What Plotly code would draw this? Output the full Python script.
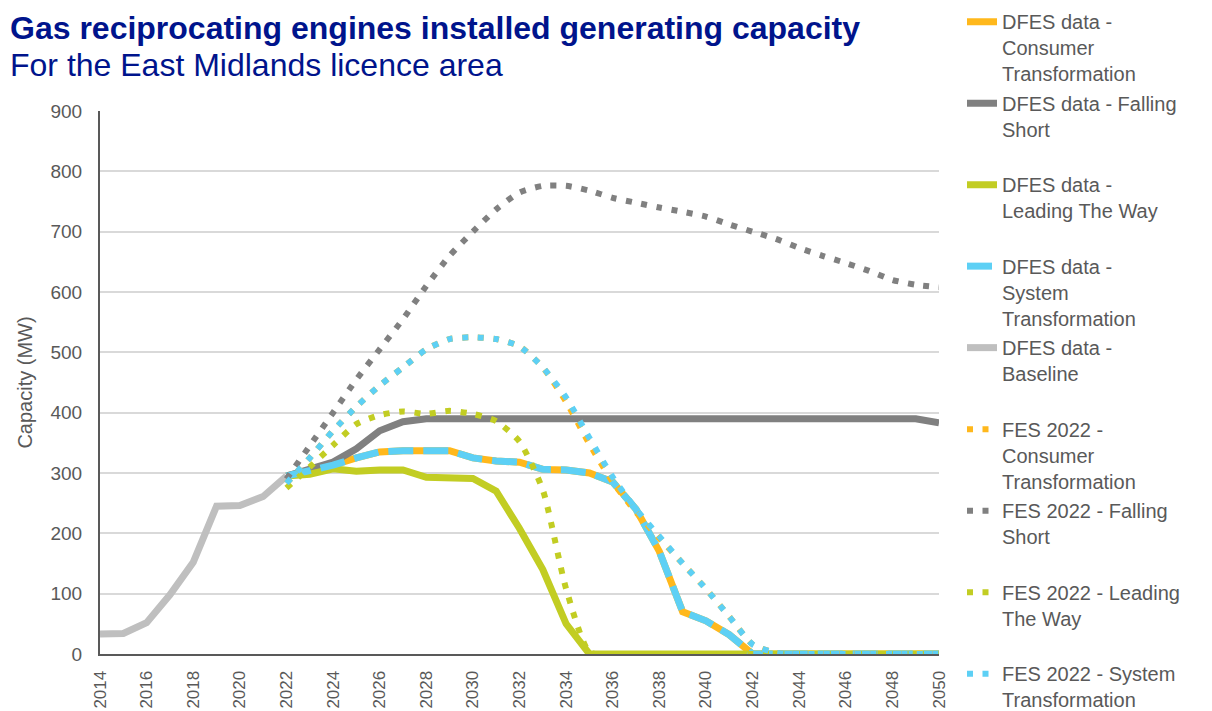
import plotly.graph_objects as go

years = list(range(2022, 2051))
baseline_years = list(range(2014, 2023))

dfes_baseline = [33, 34, 52, 98, 152, 245, 246, 261, 295]

dfes_consumer = [295, 303, 313, 325, 335, 337, 337, 337, 325, 320, 318, 306, 305, 300,
                 285, 240, 170, 70, 55, 32, 0, 0, 0, 0, 0, 0, 0, 0, 0]
dfes_system = [295, 303, 313, 325, 335, 337, 337, 337, 325, 320, 318, 306, 305, 300,
               285, 240, 170, 70, 55, 32, 0, 0, 0, 0, 0, 0, 0, 0, 0]
dfes_falling = [295, 305, 318, 340, 370, 385, 390, 390, 390, 390, 390, 390, 390, 390,
                390, 390, 390, 390, 390, 390, 390, 390, 390, 390, 390, 390, 390, 390, 383]
dfes_leading = [295, 298, 307, 303, 305, 305, 293, 293, 291, 270, 208, 140, 50, 0,
                0, 0, 0, 0, 0, 0, 0, 0, 0, 0, 0, 0, 0, 0, 0]

fes_consumer = [283, 325, 370, 410, 445, 475, 505, 522, 525, 522, 510, 475, 418, 348,
                285, 235, 192, 150, 108, 62, 16, 2, 0, 0, 0, 0, 0, 0, 0]
fes_falling = [290, 345, 400, 455, 505, 555, 610, 660, 700, 737, 765, 776, 776, 768,
               756, 748, 740, 733, 725, 712, 700, 688, 673, 660, 648, 635, 620, 612, 608]
fes_leading = [275, 310, 346, 381, 396, 402, 398, 403, 398, 386, 352, 272, 108, 3,
               0, 0, 0, 0, 0, 0, 0, 0, 0, 0, 0, 0, 0, 0, 0]
fes_system = [283, 325, 370, 410, 445, 475, 505, 522, 525, 522, 510, 475, 425, 358,
              293, 240, 195, 150, 108, 62, 16, 2, 0, 0, 0, 0, 0, 0, 0]

ORANGE = "#FFB81C"
DARK_GREY = "#808080"
GREEN = "#C2CD23"
BLUE = "#5DD0F5"
LIGHT_GREY = "#BFBFBF"
TEXT_GREY = "#595959"
NAVY = "#00148C"

DOTS = "6px,9.5px"
PAD = "<br>&nbsp;"
NARROW = "Liberation Sans Narrow, Arial Narrow, Liberation Sans, sans-serif"

series = [
    ("DFES data -<br>Consumer<br>Transformation", years, dfes_consumer, ORANGE, "solid", 7, "linear"),
    ("DFES data - Falling<br>Short" + PAD, years, dfes_falling, DARK_GREY, "solid", 7, "linear"),
    ("DFES data -<br>Leading The Way" + PAD, years, dfes_leading, GREEN, "solid", 7, "linear"),
    ("DFES data -<br>System<br>Transformation", years, dfes_system, BLUE, "25px,10px", 7, "linear"),
    ("DFES data -<br>Baseline" + PAD, baseline_years, dfes_baseline, LIGHT_GREY, "solid", 7, "linear"),
    ("FES 2022 -<br>Consumer<br>Transformation", years, fes_consumer, ORANGE, DOTS, 6, "spline"),
    ("FES 2022 - Falling<br>Short" + PAD, years, fes_falling, DARK_GREY, DOTS, 6, "spline"),
    ("FES 2022 - Leading<br>The Way" + PAD, years, fes_leading, GREEN, DOTS, 6, "spline"),
    ("FES 2022 - System<br>Transformation", years, fes_system, BLUE, DOTS, 6, "spline"),
]

fig = go.Figure()
for name, x, y, color, dash, width, shape in series:
    fig.add_trace(go.Scatter(
        x=x, y=y, name=name, mode="lines",
        line=dict(color=color, width=width, dash=dash, shape=shape,
                  smoothing=0.6 if shape == "spline" else None),
        legendgroup=name,
    ))

fig.update_layout(
    width=1212, height=711,
    margin=dict(l=100, r=273, t=111, b=57),
    paper_bgcolor="white", plot_bgcolor="white",
    font=dict(family="Liberation Sans, Arial, sans-serif", color=TEXT_GREY, size=18),
    showlegend=True,
    legend=dict(
        x=962 / 1212, y=0.997, xanchor="left", yanchor="top",
        xref="container", yref="container",
        font=dict(size=20, color=TEXT_GREY),
        valign="top", tracegroupgap=0.5, maxheight=900,
        bgcolor="rgba(0,0,0,0)",
    ),
    annotations=[
        dict(text="<b>Gas reciprocating engines installed generating capacity</b>",
             xref="paper", yref="paper", x=-0.1097, y=1.1529, xanchor="left", yanchor="middle",
             showarrow=False, font=dict(family=NARROW, size=32, color=NAVY)),
        dict(text="For the East Midlands licence area",
             xref="paper", yref="paper", x=-0.1097, y=1.0847, xanchor="left", yanchor="middle",
             showarrow=False, font=dict(family=NARROW, size=32, color=NAVY)),
    ],
)

fig.update_xaxes(
    range=[2014, 2050], tickvals=list(range(2014, 2051, 2)), tickangle=-90,
    showgrid=False, showline=True, linecolor=TEXT_GREY, linewidth=2,
    ticks="", ticklabelstandoff=8, tickfont=dict(size=17, color=TEXT_GREY),
    zeroline=False, automargin=False,
)
fig.update_yaxes(
    range=[0, 900], dtick=100, showgrid=True, gridcolor="#D9D9D9", gridwidth=1.5,
    showline=True, linecolor=TEXT_GREY, linewidth=2, zeroline=False, automargin=False,
    ticks="", ticklabelstandoff=12, tickfont=dict(size=19, color=TEXT_GREY),
    title=dict(text="Capacity (MW)", font=dict(size=20, color=TEXT_GREY), standoff=12),
)

# drop the default body margin and scrollbars so the figure fills the window exactly
fig.write_html(
    "out.html",
    config={"displayModeBar": False},
    post_script="document.body.style.margin='0';"
                "document.body.style.overflow='hidden';"
                "document.documentElement.style.overflow='hidden';",
)
